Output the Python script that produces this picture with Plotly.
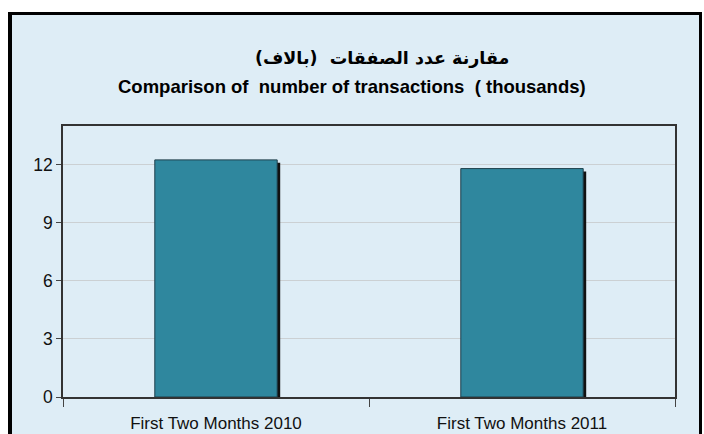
import plotly.graph_objects as go

categories = ["First Two Months 2010", "First Two Months 2011"]
transactions_thousands = [12.25, 11.8]
y_tick_values = [0, 3, 6, 9, 12]
title_ar = "مقارنة عدد الصفقات  (بالاف)"
title_en = "Comparison of  number of transactions  ( thousands)"

W, H = 704, 434
L, R, T, B = 63, 29, 126, 37
pw = W - L - R
ph = H - T - B

def px_x(p):
    return (p - L) / pw

def px_y(p):
    return (H - B - p) / ph

bar_w = 0.4
shadow_dx = 3 / (pw / 2)
shadow_dy = 3 / (ph / 14)

fig = go.Figure()
fig.add_trace(go.Bar(
    x=categories, y=transactions_thousands, base=[-shadow_dy] * len(categories),
    width=bar_w, offset=-bar_w / 2 + shadow_dx,
    marker=dict(color="#111111", line=dict(width=0)),
    hoverinfo="skip", showlegend=False,
))
fig.add_trace(go.Bar(
    x=categories, y=transactions_thousands,
    width=bar_w, offset=-bar_w / 2,
    marker=dict(color="#2F879E", line=dict(color="#1E3F4A", width=1)),
    showlegend=False,
))

fig.update_layout(
    width=W, height=H,
    margin=dict(l=L, r=R, t=T, b=B),
    barmode="overlay",
    paper_bgcolor="white",
    plot_bgcolor="rgba(0,0,0,0)",
    font=dict(family="Liberation Sans, Arial, sans-serif", size=17, color="#111"),
    shapes=[
        dict(type="rect", xref="paper", yref="paper",
             x0=px_x(10.5), x1=px_x(700.5), y0=px_y(450), y1=px_y(13.5),
             line=dict(color="black", width=3), fillcolor="#DEEDF6", layer="below"),
        dict(type="line", xref="paper", yref="paper",
             x0=px_x(10), x1=px_x(10), y0=px_y(450), y1=px_y(12),
             line=dict(color="black", width=4), layer="below"),
    ],
    annotations=[
        dict(text=title_ar, xref="paper", yref="paper", x=px_x(382), y=px_y(58),
             xanchor="center", yanchor="middle", showarrow=False,
             font=dict(family="DejaVu Sans, sans-serif", size=17.5, color="black", weight="bold")),
        dict(text=title_en, xref="paper", yref="paper", x=px_x(352), y=px_y(87),
             xanchor="center", yanchor="middle", showarrow=False,
             font=dict(family="Liberation Sans, Arial, sans-serif", size=18.5, color="black", weight="bold")),
    ],
)
fig.update_xaxes(
    showline=True, linecolor="#333333", linewidth=1.5, mirror=True,
    ticks="outside", tickson="boundaries", ticklen=8, tickcolor="#444",
    ticklabelstandoff=10, automargin=False,
    showgrid=False, tickfont=dict(size=17, color="#111"),
)
fig.update_yaxes(
    range=[0, 14], tickvals=y_tick_values,
    showline=True, linecolor="#333333", linewidth=1.5, mirror=True,
    ticks="outside", ticklen=5, tickcolor="#444", automargin=False,
    showgrid=True, gridcolor="#CBD0D3", gridwidth=1,
    zeroline=False, tickfont=dict(size=17.5, color="#111"),
)

fig.write_html("out.html", config={"displayModeBar": False},
               post_script="document.body.style.margin='0';")
